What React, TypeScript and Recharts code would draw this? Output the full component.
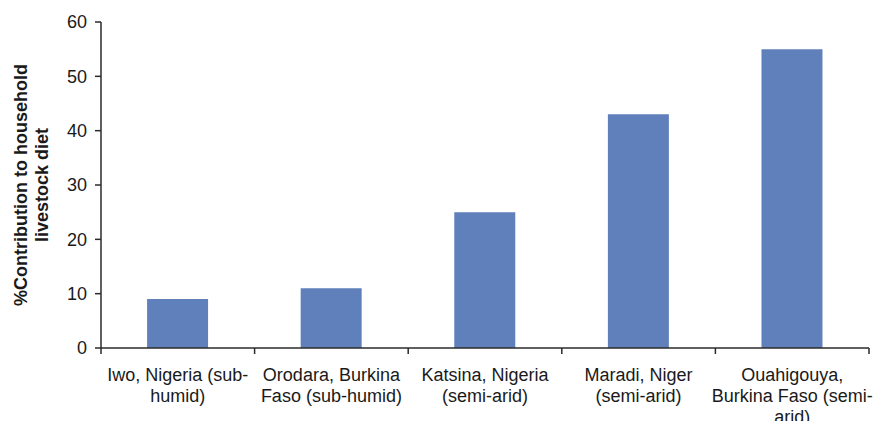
import { Bar, BarChart, XAxis, YAxis } from 'recharts'

const categories = [
    'Iwo, Nigeria (sub-humid)',
    'Orodara, Burkina Faso (sub-humid)',
    'Katsina, Nigeria (semi-arid)',
    'Maradi, Niger (semi-arid)',
    'Ouahigouya, Burkina Faso (semi-arid)'
]
const contribution = [9, 11, 25, 43, 55]
const tickLines = [
    ['Iwo, Nigeria (sub-', 'humid)'],
    ['Orodara, Burkina', 'Faso (sub-humid)'],
    ['Katsina, Nigeria', '(semi-arid)'],
    ['Maradi, Niger', '(semi-arid)'],
    ['Ouahigouya,', 'Burkina Faso (semi-', 'arid)']
]
const yTicks = [0, 10, 20, 30, 40, 50, 60]
const yLabelLines = ['%Contribution to household', 'livestock diet']

const data = categories.map((name, i) => ({ name, value: contribution[i] }))

const WIDTH = 875
const HEIGHT = 421
const MARGIN = { top: 22, right: 6, left: 0, bottom: 0 }
const Y_AXIS_W = 101
const TICK = 6
const FONT = '"Liberation Sans", Arial, Helvetica, sans-serif'
const INK = '#1a1a1a'
const AXIS = '#2b2b2b'
const BAR = '#5f80ba'

const band = (WIDTH - MARGIN.left - MARGIN.right - Y_AXIS_W) / categories.length

const XTick = (props: any) => {
    const { x, y, index } = props
    const axisY = y - TICK
    const lines = tickLines[index] || []
    return (
        <g>
            <line x1={x - band / 2} x2={x - band / 2} y1={axisY} y2={axisY + TICK} stroke={AXIS} strokeWidth={1.5} />
            {index === categories.length - 1 && (
                <line x1={x + band / 2} x2={x + band / 2} y1={axisY} y2={axisY + TICK} stroke={AXIS} strokeWidth={1.5} />
            )}
            <text x={x} y={axisY + 33} textAnchor="middle" fontSize={18} fill={INK} fontFamily={FONT}>
                {lines.map((l, i) => (
                    <tspan key={i} x={x} dy={i === 0 ? 0 : 21}>
                        {l}
                    </tspan>
                ))}
            </text>
        </g>
    )
}

const YLabel = (props: any) => {
    const vb = props.viewBox || { x: 0, y: 0, width: Y_AXIS_W, height: 326 }
    const cy = vb.y + vb.height / 2
    return (
        <g>
            {yLabelLines.map((l, i) => {
                const lx = vb.x + 27 + i * 21
                return (
                    <text key={i} x={lx} y={cy} transform={`rotate(-90, ${lx}, ${cy})`} textAnchor="middle" fontSize={18} fontWeight="bold" fill={INK} fontFamily={FONT}>
                        {l}
                    </text>
                )
            })}
        </g>
    )
}

export default function App() {
    return (
        <div style={{ position: 'absolute', left: 0, top: 0, background: '#fff' }}>
            <BarChart width={WIDTH} height={HEIGHT} data={data} margin={MARGIN} barCategoryGap="30%">
                <XAxis
                    dataKey="name"
                    height={HEIGHT - MARGIN.top - 326}
                    interval={0}
                    tick={<XTick />}
                    tickLine={false}
                    tickSize={TICK}
                    tickMargin={0}
                    axisLine={{ stroke: AXIS, strokeWidth: 1.5 }}
                />
                <YAxis
                    width={Y_AXIS_W}
                    domain={[0, 60]}
                    ticks={yTicks}
                    interval={0}
                    tickSize={TICK}
                    tickMargin={8}
                    tickLine={{ stroke: AXIS, strokeWidth: 1.5 }}
                    axisLine={{ stroke: AXIS, strokeWidth: 1.5 }}
                    tick={{ fontSize: 18, fill: INK, fontFamily: FONT }}
                    label={(p: any) => <YLabel {...p} />}
                />
                <Bar dataKey="value" fill={BAR} isAnimationActive={false} />
            </BarChart>
        </div>
    )
}
